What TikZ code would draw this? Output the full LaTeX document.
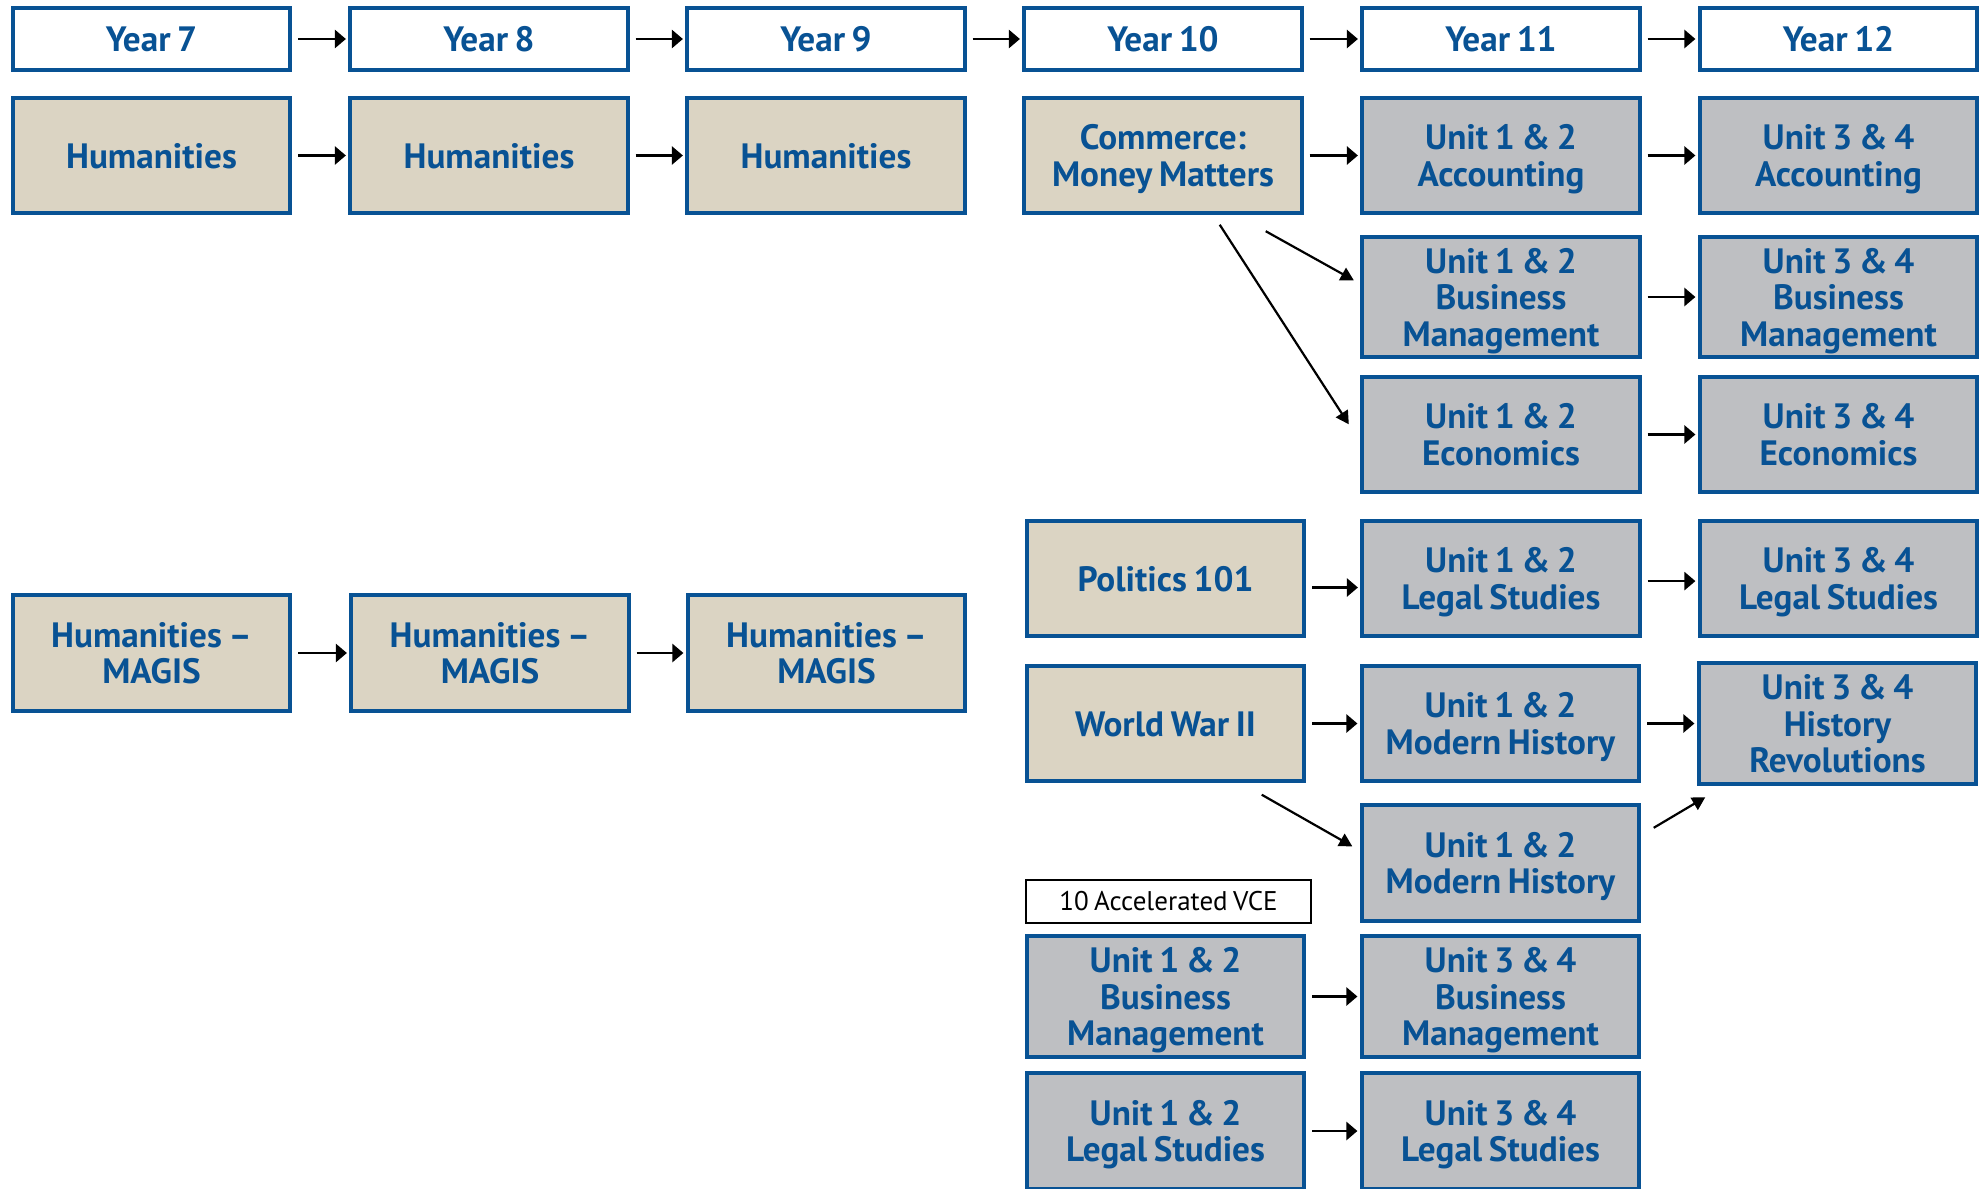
\documentclass[tikz,border=0pt]{standalone}
\usepackage{fontspec}
\setmainfont{PT Sans}[WordSpace=0.75]
\usetikzlibrary{arrows.meta,calc}
\definecolor{bblue}{RGB}{8,82,148}
\definecolor{beige}{RGB}{219,212,195}
\definecolor{ggray}{RGB}{190,191,194}
\newcommand\bx[1]{\raisebox{0pt}[\dimexpr\height+5.3pt\relax][\depth]{\begin{tabular}{@{}c@{}}#1\end{tabular}}}
\begin{document}
\begin{tikzpicture}[x=0.5pt,y=-0.5pt,
 box/.style={draw=bblue,line width=2pt,minimum width=138.7pt,minimum height=57.7pt,inner sep=0pt,text=bblue,font=\fontsize{17.6}{18.3}\selectfont\bfseries},
 yearbox/.style={box,fill=white,minimum height=31.2pt},
 tanbox/.style={box,fill=beige},
 greybox/.style={box,fill=ggray},
 labelbox/.style={draw=black,line width=1.1pt,fill=white,minimum width=142.5pt,minimum height=21.5pt,inner sep=0pt,font=\fontsize{13.5}{15}\selectfont},
 arr/.style={-{Triangle[length=5.5pt,width=9pt]},line width=1.25pt,black,shorten <=3pt,shorten >=1.2pt},
 darr/.style={-{Triangle[length=6.5pt,width=7pt]},line width=1.1pt,black}]
\clip (0,0) rectangle (1980,1188);
\fill[white] (0,0) rectangle (1980,1188);
% Year header row
\node[yearbox] (y7) at (151.5,39) {\bx{Year 7}};
\node[yearbox] (y8) at (489,39) {\bx{Year 8}};
\node[yearbox] (y9) at (826,39) {\bx{Year 9}};
\node[yearbox] (y10) at (1163,39) {\bx{Year 10}};
\node[yearbox] (y11) at (1501,39) {\bx{Year 11}};
\node[yearbox] (y12) at (1838.5,39) {\bx{Year 12}};
% Row 1
\node[tanbox] (h7) at (151.5,155.5) {\bx{Humanities}};
\node[tanbox] (h8) at (489,155.5) {\bx{Humanities}};
\node[tanbox] (h9) at (826,155.5) {\bx{Humanities}};
\node[tanbox] (comm) at (1163,155.5) {\bx{Commerce:\\Money Matters}};
\node[greybox] (acc11) at (1501,155.5) {\bx{Unit 1 \& 2\\Accounting}};
\node[greybox] (acc12) at (1838.5,155.5) {\bx{Unit 3 \& 4\\Accounting}};
% Row 2
\node[greybox] (bm11) at (1501,297) {\bx{Unit 1 \& 2\\Business\\Management}};
\node[greybox] (bm12) at (1838.5,297) {\bx{Unit 3 \& 4\\Business\\Management}};
% Row 3
\node[greybox] (ec11) at (1501,434.5) {\bx{Unit 1 \& 2\\Economics}};
\node[greybox] (ec12) at (1838.5,434.5) {\bx{Unit 3 \& 4\\Economics}};
% Politics
\node[tanbox] (pol) at (1165.5,578.5) {\bx{Politics 101}};
\node[greybox] (ls11) at (1501,578.5) {\bx{Unit 1 \& 2\\Legal Studies}};
\node[greybox] (ls12) at (1838.5,578.5) {\bx{Unit 3 \& 4\\Legal Studies}};
% MAGIS
\node[tanbox] (m7) at (151.5,653) {\bx{Humanities --\\MAGIS}};
\node[tanbox] (m8) at (490,653) {\bx{Humanities --\\MAGIS}};
\node[tanbox] (m9) at (826.5,653) {\bx{Humanities --\\MAGIS}};
% WWII
\node[tanbox] (ww) at (1165.5,723.5) {\bx{World War II}};
\node[greybox] (mh11) at (1500.5,723.5) {\bx{Unit 1 \& 2\\Modern History}};
\node[greybox] (hr12) at (1837.5,723.5) {\bx{Unit 3 \& 4\\History\\Revolutions}};
\node[greybox] (mh11b) at (1500.5,863) {\bx{Unit 1 \& 2\\Modern History}};
% Accelerated
\node[labelbox] (acclab) at (1168.5,901.5) {10 Accelerated VCE};
\node[greybox] (abm) at (1165.5,996.5) {\bx{Unit 1 \& 2\\Business\\Management}};
\node[greybox] (abm2) at (1500.5,996.5) {\bx{Unit 3 \& 4\\Business\\Management}};
\node[greybox] (als) at (1165.5,1131) {\bx{Unit 1 \& 2\\Legal Studies}};
\node[greybox] (als2) at (1500.5,1131) {\bx{Unit 3 \& 4\\Legal Studies}};
% Horizontal arrows
\draw[arr] (y7) -- (y8);
\draw[arr] (y8) -- (y9);
\draw[arr] (y9) -- (y10);
\draw[arr] (y10) -- (y11);
\draw[arr] (y11) -- (y12);
\draw[arr] (h7) -- (h8);
\draw[arr] (h8) -- (h9);
\draw[arr] (comm) -- (acc11);
\draw[arr] (acc11) -- (acc12);
\draw[arr] (bm11) -- (bm12);
\draw[arr] (ec11) -- (ec12);
\draw[arr] ([yshift=-4.5pt]pol.east) -- ([yshift=-4.5pt]ls11.west);
\draw[arr] ([yshift=-1.3pt]ls11.east) -- ([yshift=-1.3pt]ls12.west);
\draw[arr] (m7) -- (m8);
\draw[arr] (m8) -- (m9);
\draw[arr] (ww) -- (mh11);
\draw[arr] (mh11) -- (hr12);
\draw[arr] (abm) -- (abm2);
\draw[arr] (als) -- (als2);
% Diagonal arrows
\draw[darr] ($(comm.south east)+(-38,16)$) -- ($(bm11.north west)+(-6.5,45.5)$);
\draw[darr] ($(comm.south east)+(-84,9.5)$) -- ($(ec11.north west)+(-11.5,49.5)$);
\draw[darr] ($(ww.south east)+(-44.5,11.5)$) -- ($(mh11b.north west)+(-7.5,43)$);
\draw[darr] ($(mh11b.north east)+(12.5,24.5)$) -- ($(hr12.south west)+(8.5,11.5)$);
\end{tikzpicture}
\end{document}
